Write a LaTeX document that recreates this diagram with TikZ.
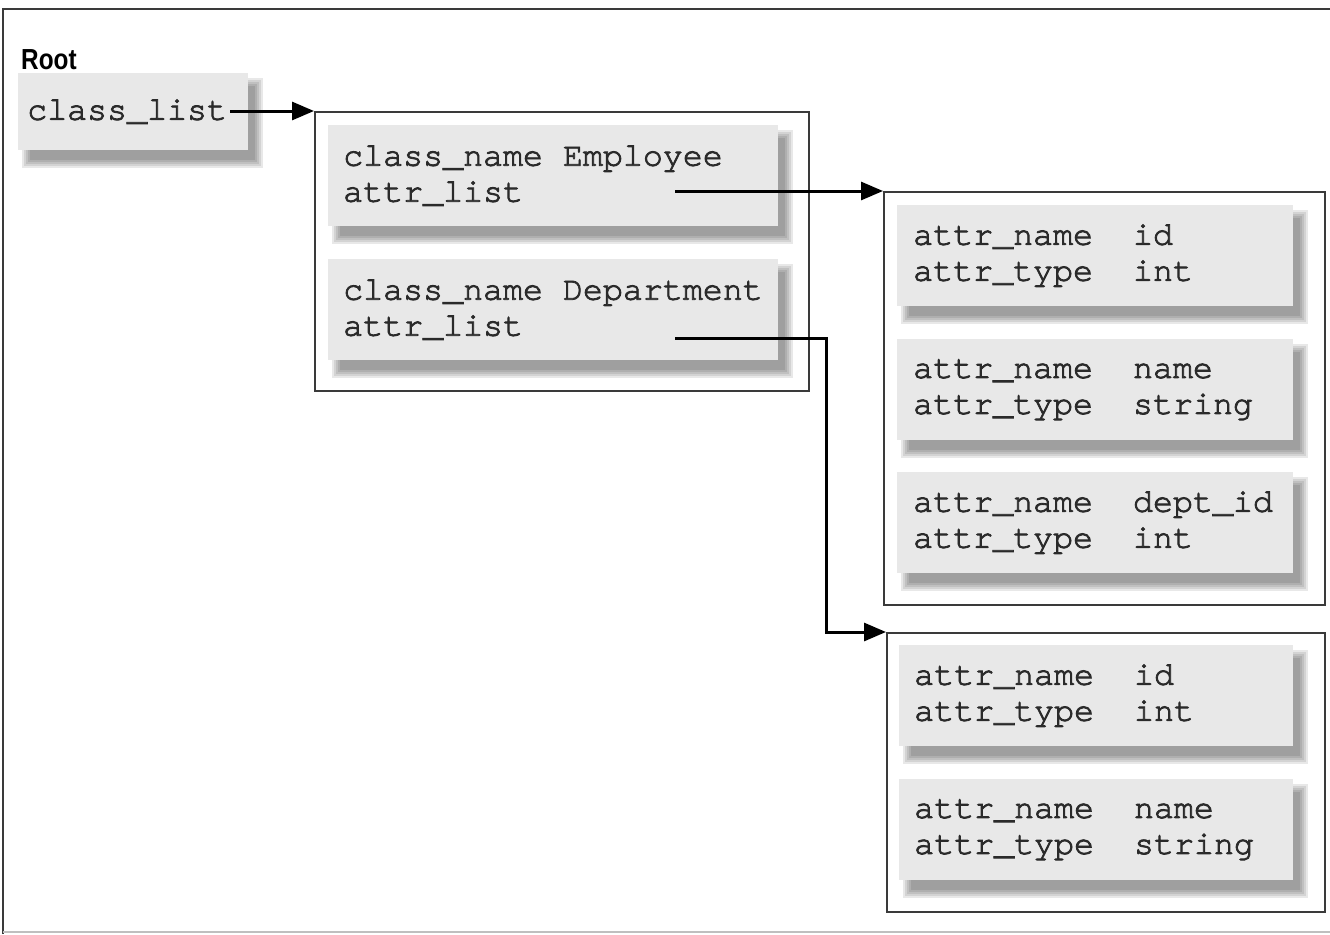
\documentclass[tikz,border=0pt]{standalone}
\usepackage{fontspec}
\setmonofont[FakeBold=2.5]{TeX Gyre Cursor}
\newfontfamily\rootfont[FakeStretch=0.84]{Liberation Sans}
\usetikzlibrary{arrows.meta,backgrounds,calc}
\definecolor{boxgray}{HTML}{E8E8E8}
\definecolor{framegray}{HTML}{3A3A3A}
\definecolor{txtgray}{HTML}{2A2A2A}
\newcommand\gapw[1]{\hspace*{#1pt}}
\newcommand\softshadow[1]{%
  \begin{pgfonlayer}{background}
    \foreach \i in {-4,-2,0,2,4}
      \fill[black, opacity=0.09]
        ($(#1.north west)+(8+\i,9+\i)$) rectangle ($(#1.south east)+(11-\i,14-\i)$);
  \end{pgfonlayer}}
\tikzset{
  gbox/.style={fill=boxgray, draw=none, anchor=north west, align=left,
    inner ysep=0pt, text=txtgray,
    font=\ttfamily\fontsize{33.3}{36}\selectfont},
  container/.style={draw=framegray, line width=2pt, anchor=north west, inner sep=0pt},
  conn/.style={line width=3pt, -{Triangle[length=22pt,width=18pt]}},
}
\begin{document}
\begin{tikzpicture}[x=1pt,y=-1pt]
\useasboundingbox (0,0) rectangle (1330,934);
% outer frame
\draw[framegray, line width=2.5pt] (3,934) -- (3,9) -- (1330,9);
\draw[gray!50, line width=2pt] (3,932) -- (1330,932);
% root
\node[anchor=base west, inner sep=0pt, font=\rootfont\bfseries\fontsize{29}{30}\selectfont] (root) at (21,70) {Root};
\node[gbox, minimum width=230pt, minimum height=77pt, inner xsep=9pt, text width=212pt] (cl) at (18,73) {class\_list};
% containers
\node[container, minimum width=494pt, minimum height=279pt] (A) at (314,111) {};
\node[container, minimum width=441pt, minimum height=413pt] (B) at (883,191) {};
\node[container, minimum width=438pt, minimum height=279pt] (C) at (886,632) {};
% class boxes
\node[gbox, minimum width=450pt, minimum height=101pt, inner xsep=15pt, text width=420pt] (a1) at (328,125)
  {class\_name\gapw{20}Employee\\attr\_list};
\node[gbox, minimum width=450pt, minimum height=101pt, inner xsep=15pt, text width=420pt] (a2) at (328,259)
  {class\_name\gapw{20}Department\\attr\_list};
% attribute boxes
\node[gbox, minimum width=396pt, minimum height=101pt, inner xsep=16pt, text width=364pt] (b1) at (897,205)
  {attr\_name\gapw{40}id\\attr\_type\gapw{40}int};
\node[gbox, minimum width=396pt, minimum height=101pt, inner xsep=16pt, text width=364pt] (b2) at (897,339)
  {attr\_name\gapw{40}name\\attr\_type\gapw{40}string};
\node[gbox, minimum width=396pt, minimum height=101pt, inner xsep=16pt, text width=364pt] (b3) at (897,472)
  {attr\_name\gapw{40}dept\_id\\attr\_type\gapw{40}int};
\node[gbox, minimum width=394pt, minimum height=101pt, inner xsep=15pt, text width=364pt] (c1) at (899,645)
  {attr\_name\gapw{40}id\\attr\_type\gapw{40}int};
\node[gbox, minimum width=394pt, minimum height=101pt, inner xsep=15pt, text width=364pt] (c2) at (899,779)
  {attr\_name\gapw{40}name\\attr\_type\gapw{40}string};
\softshadow{cl}
\softshadow{a1}
\softshadow{a2}
\softshadow{b1}
\softshadow{b2}
\softshadow{b3}
\softshadow{c1}
\softshadow{c2}
% connectors
\coordinate (clout) at (230,111);
\coordinate (a1out) at (675,191);
\coordinate (a2out) at (675,338);
\coordinate (bend) at (826,338);
\draw[conn] (clout) -- (A.north west);
\draw[conn] (a1out) -- (B.north west);
\draw[conn] (a2out) -- (bend) |- (C.north west);
\end{tikzpicture}
\end{document}
